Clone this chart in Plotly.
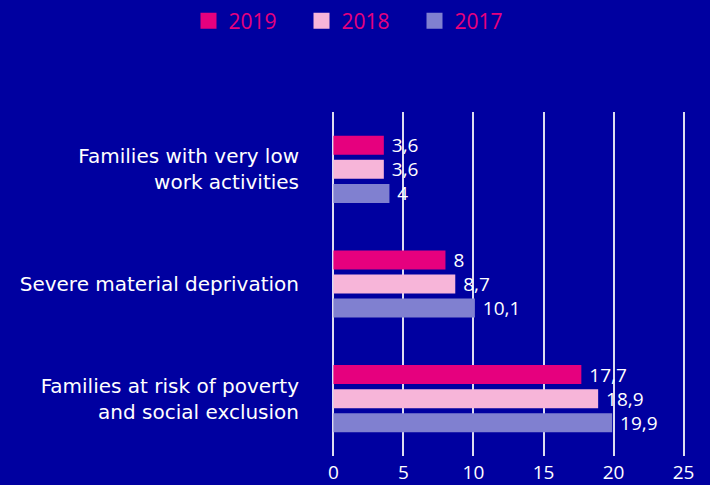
import plotly.graph_objects as go

categories = ["Families at risk of poverty<br>and social exclusion",
              "Severe material deprivation",
              "Families with very low<br>work activities"]
years = ["2017", "2018", "2019"]
v2017 = [19.9, 10.1, 4]
v2018 = [18.9, 8.7, 3.6]
v2019 = [17.7, 8, 3.6]
colors = {"2019": "#e6007e", "2018": "#f7b5d9", "2017": "#8080d0"}
values = {"2017": v2017, "2018": v2018, "2019": v2019}
xticks = [0, 5, 10, 15, 20, 25]

NUMFONT = "Open Sans"
LABFONT = "DejaVu Sans"
BG = "#0000a0"

def fmt(v):
    return " " + ("%g" % v).replace(".", ",")

fig = go.Figure()
for y in years:
    fig.add_trace(go.Bar(
        y=categories, x=values[y], name=y, orientation="h",
        marker=dict(color=colors[y], line=dict(width=0)),
        text=[fmt(v) for v in values[y]], textposition="outside",
        constraintext="none",
        textfont=dict(color="white", size=19, family=NUMFONT),
        cliponaxis=False, showlegend=False,
    ))
for y in ["2019", "2018", "2017"]:
    fig.add_trace(go.Scatter(
        x=[None], y=[None], mode="markers", name=y,
        marker=dict(symbol="square", size=16, color=colors[y]),
        showlegend=True,
    ))

fig.update_layout(
    width=710, height=485,
    paper_bgcolor=BG, plot_bgcolor=BG,
    barmode="group", bargap=0.37, bargroupgap=0.21,
    margin=dict(l=332, r=25, t=112, b=29, autoexpand=False),
    font=dict(family=NUMFONT, color="white", size=19),
    legend=dict(orientation="h", x=0.5 + 3 / 710, xanchor="center", xref="container",
                y=1 - 21 / 485, yref="container", yanchor="middle",
                traceorder="normal",
                font=dict(color="#e6007e", size=21, family=NUMFONT),
                entrywidth=68, entrywidthmode="pixels", itemwidth=30,
                bgcolor="rgba(0,0,0,0)"),
    showlegend=True,
    xaxis=dict(range=[-0.1, 25.1], tickvals=xticks, showgrid=True,
               gridcolor="#dcdcf0", gridwidth=1.5, zeroline=False, showline=False,
               tickfont=dict(color="white", size=19, family=NUMFONT), ticklabelstandoff=3,
               automargin=False, fixedrange=True),
    yaxis=dict(showgrid=False, zeroline=False, showline=False,
               tickfont=dict(color="white", size=20, family=LABFONT), ticklabelstandoff=32,
               automargin=False, fixedrange=True),
)

fig.write_html("out.html", config={"displayModeBar": False},
               post_script="document.body.style.margin='0';document.body.style.background='%s';" % BG)
